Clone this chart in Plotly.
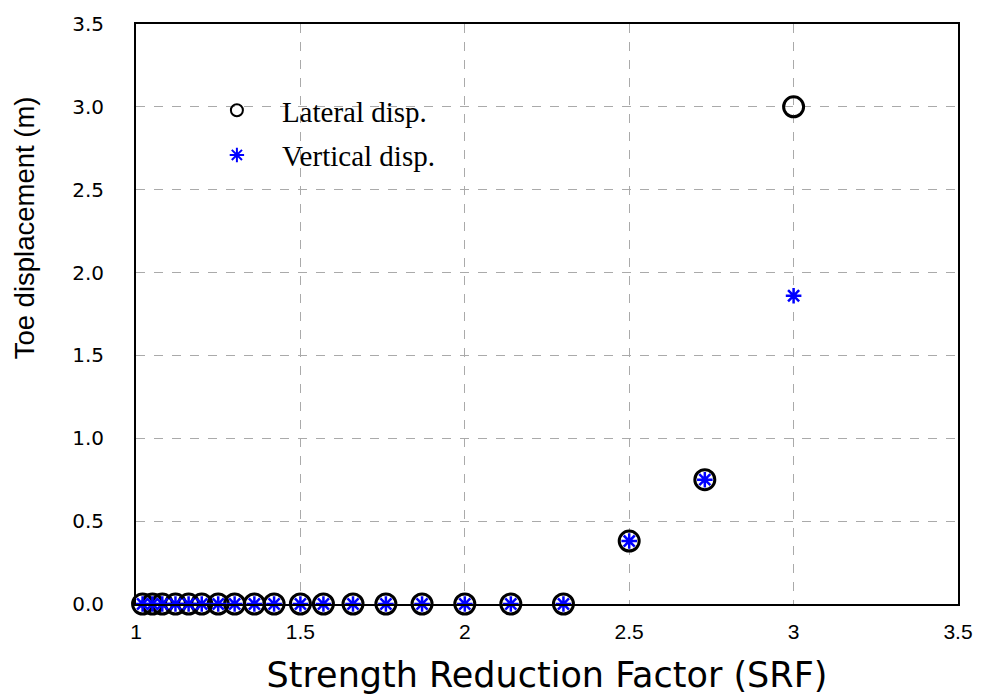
import plotly.graph_objects as go

srf = [1.02, 1.05, 1.08, 1.12, 1.16, 1.20, 1.25, 1.30, 1.36, 1.42, 1.50,
       1.57, 1.66, 1.76, 1.87, 2.00, 2.14, 2.30, 2.50, 2.73, 3.00]
lateral = [0]*18 + [0.38, 0.75, 3.00]
vertical = [0]*18 + [0.38, 0.75, 1.86]

x_ticks = [1, 1.5, 2, 2.5, 3, 3.5]
x_tick_text = ["1", "1.5", "2", "2.5", "3", "3.5"]
y_ticks = [0, 0.5, 1.0, 1.5, 2.0, 2.5, 3.0, 3.5]
y_tick_text = ["0.0", "0.5", "1.0", "1.5", "2.0", "2.5", "3.0", "3.5"]

fig = go.Figure()
fig.add_trace(go.Scatter(
    x=srf, y=lateral, mode="markers", name="Lateral disp.", legendgroup="a",
    marker=dict(symbol="circle-open", size=20, color="black",
                line=dict(width=3.0, color="black")),
    cliponaxis=False,
))
fig.add_trace(go.Scatter(
    x=srf, y=vertical, mode="markers", name="Vertical disp.", legendgroup="b",
    marker=dict(symbol="asterisk-open", size=13, color="blue",
                line=dict(width=2.5, color="blue")),
    cliponaxis=False,
))

fig.update_layout(
    width=985, height=700,
    margin=dict(l=136, r=22, t=19, b=95),
    plot_bgcolor="white", paper_bgcolor="white",
    showlegend=True,
    legend=dict(x=0.068, y=0.895, xanchor="left", yanchor="top",
                bgcolor="rgba(0,0,0,0)",
                font=dict(family="Liberation Serif", size=29, color="black"),
                itemsizing="constant", tracegroupgap=4, itemwidth=80),
    xaxis=dict(range=[1, 3.5], tickvals=x_ticks, ticktext=x_tick_text,
               showgrid=True, gridcolor="#aaaaaa", griddash="dash", gridwidth=1,
               showline=True, linecolor="black", linewidth=2, mirror=True,
               zeroline=False, ticks="", ticklabelstandoff=8,
               tickfont=dict(family="Liberation Sans", size=21, color="black"),
               title=dict(text="Strength Reduction Factor (SRF)", standoff=20,
                          font=dict(family="DejaVu Sans", size=35, color="black"))),
    yaxis=dict(range=[0, 3.5], tickvals=y_ticks, ticktext=y_tick_text,
               showgrid=True, gridcolor="#aaaaaa", griddash="dash", gridwidth=1,
               showline=True, linecolor="black", linewidth=2, mirror=True,
               zeroline=False, ticks="", ticklabelstandoff=26,
               tickfont=dict(family="DejaVu Sans", size=20, color="black")),
    annotations=[dict(text="Toe displacement (m)", textangle=-90,
                      xref="paper", yref="paper", x=-0.136, y=0.648,
                      xanchor="center", yanchor="middle", showarrow=False,
                      font=dict(family="Liberation Sans", size=27.5, color="black"))],
)

fig.write_html("out.html")
